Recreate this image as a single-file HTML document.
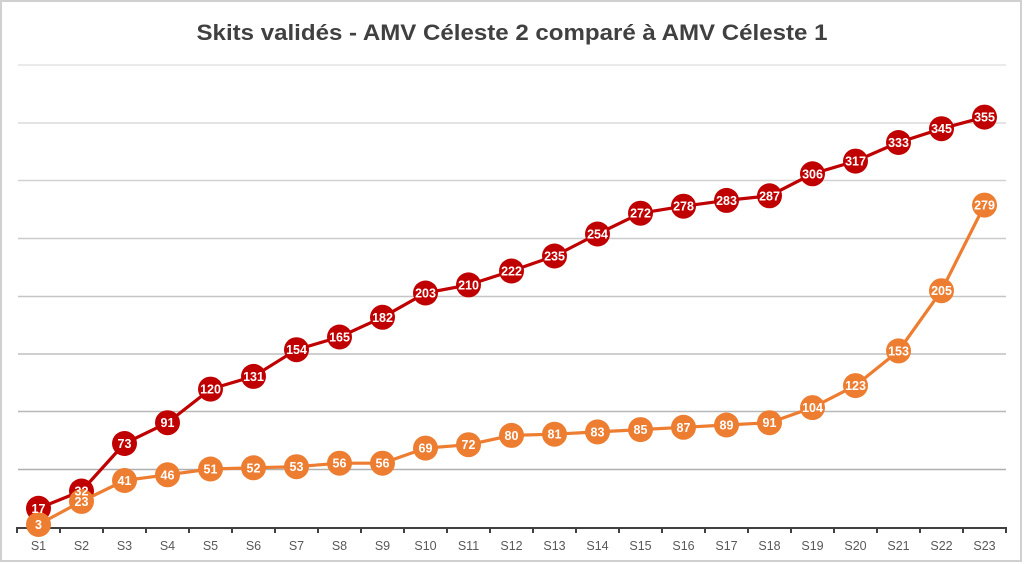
<!DOCTYPE html>
<html><head><meta charset="utf-8"><style>
html,body{margin:0;padding:0;background:#fff;}
svg{display:block;}
</style></head><body>
<svg width="1024" height="564" viewBox="0 0 1024 564" xmlns="http://www.w3.org/2000/svg">
<rect x="0" y="0" width="1024" height="564" fill="#fff"/>
<rect x="1" y="1" width="1020" height="560" fill="#fff" stroke="#d0d0d0" stroke-width="2"/>
<text x="512" y="40" text-anchor="middle" font-family="Liberation Sans, sans-serif" font-weight="bold" font-size="22" fill="#404040" textLength="631" lengthAdjust="spacingAndGlyphs">Skits validés - AMV Céleste 2 comparé à AMV Céleste 1</text>
<g stroke-width="1.5">
<line x1="18" x2="1006" y1="65" y2="65" stroke="#e4e4e4"/>
<line x1="18" x2="1006" y1="123" y2="123" stroke="#dadada"/>
<line x1="18" x2="1006" y1="180.5" y2="180.5" stroke="#d2d2d2"/>
<line x1="18" x2="1006" y1="238.5" y2="238.5" stroke="#cbcbcb"/>
<line x1="18" x2="1006" y1="296.5" y2="296.5" stroke="#c5c5c5"/>
<line x1="18" x2="1006" y1="354" y2="354" stroke="#bfbfbf"/>
<line x1="18" x2="1006" y1="411.5" y2="411.5" stroke="#b8b8b8"/>
<line x1="18" x2="1006" y1="469.5" y2="469.5" stroke="#b0b0b0"/>
</g>
<g stroke="#404040" stroke-width="2" fill="none">
<line x1="17" x2="1007" y1="528" y2="528"/>
<path d="M17 527v6M60 527v6M103 527v6M146 527v6M189 527v6M232 527v6M275 527v6M318 527v6M361 527v6M404 527v6M447 527v6M490 527v6M533 527v6M576 527v6M619 527v6M662 527v6M705 527v6M748 527v6M791 527v6M834 527v6M877 527v6M920 527v6M963 527v6M1006 527v6"/>
</g>
<g font-family="Liberation Sans, sans-serif" font-size="12.5" fill="#595959" text-anchor="middle">
<text x="38.5" y="550">S1</text><text x="81.5" y="550">S2</text><text x="124.5" y="550">S3</text><text x="167.5" y="550">S4</text><text x="210.5" y="550">S5</text><text x="253.5" y="550">S6</text><text x="296.5" y="550">S7</text><text x="339.5" y="550">S8</text><text x="382.5" y="550">S9</text><text x="425.5" y="550">S10</text><text x="468.5" y="550">S11</text><text x="511.5" y="550">S12</text><text x="554.5" y="550">S13</text><text x="597.5" y="550">S14</text><text x="640.5" y="550">S15</text><text x="683.5" y="550">S16</text><text x="726.5" y="550">S17</text><text x="769.5" y="550">S18</text><text x="812.5" y="550">S19</text><text x="855.5" y="550">S20</text><text x="898.5" y="550">S21</text><text x="941.5" y="550">S22</text><text x="984.5" y="550">S23</text>
</g>
<!-- Red series -->
<polyline fill="none" stroke="#C00000" stroke-width="3.2" stroke-linejoin="round" points="38.5,508.3 81.5,491 124.5,443.5 167.5,422.7 210.5,389.1 253.5,376.4 296.5,349.7 339.5,337 382.5,317.3 425.5,293 468.5,284.9 511.5,271 554.5,256 597.5,234 640.5,213.2 683.5,206.2 726.5,200.4 769.5,195.8 812.5,173.8 855.5,161.1 898.5,142.5 941.5,128.7 984.5,117.1"/>
<g fill="#C00000">
<circle cx="38.5" cy="508.3" r="12.5"/><circle cx="81.5" cy="491" r="12.5"/><circle cx="124.5" cy="443.5" r="12.5"/><circle cx="167.5" cy="422.7" r="12.5"/><circle cx="210.5" cy="389.1" r="12.5"/><circle cx="253.5" cy="376.4" r="12.5"/><circle cx="296.5" cy="349.7" r="12.5"/><circle cx="339.5" cy="337" r="12.5"/><circle cx="382.5" cy="317.3" r="12.5"/><circle cx="425.5" cy="293" r="12.5"/><circle cx="468.5" cy="284.9" r="12.5"/><circle cx="511.5" cy="271" r="12.5"/><circle cx="554.5" cy="256" r="12.5"/><circle cx="597.5" cy="234" r="12.5"/><circle cx="640.5" cy="213.2" r="12.5"/><circle cx="683.5" cy="206.2" r="12.5"/><circle cx="726.5" cy="200.4" r="12.5"/><circle cx="769.5" cy="195.8" r="12.5"/><circle cx="812.5" cy="173.8" r="12.5"/><circle cx="855.5" cy="161.1" r="12.5"/><circle cx="898.5" cy="142.5" r="12.5"/><circle cx="941.5" cy="128.7" r="12.5"/><circle cx="984.5" cy="117.1" r="12.5"/>
</g>
<!-- Orange series -->
<polyline fill="none" stroke="#ED7D31" stroke-width="3.2" stroke-linejoin="round" points="38.5,524.5 81.5,501.4 124.5,480.5 167.5,474.8 210.5,469 253.5,467.8 296.5,466.7 339.5,463.2 382.5,463.2 425.5,448.1 468.5,444.7 511.5,435.4 554.5,434.2 597.5,431.9 640.5,429.6 683.5,427.3 726.5,425 769.5,422.7 812.5,407.6 855.5,385.6 898.5,350.9 941.5,290.7 984.5,205.1"/>
<g fill="#ED7D31">
<circle cx="38.5" cy="524.5" r="12.5"/><circle cx="81.5" cy="501.4" r="12.5"/><circle cx="124.5" cy="480.5" r="12.5"/><circle cx="167.5" cy="474.8" r="12.5"/><circle cx="210.5" cy="469" r="12.5"/><circle cx="253.5" cy="467.8" r="12.5"/><circle cx="296.5" cy="466.7" r="12.5"/><circle cx="339.5" cy="463.2" r="12.5"/><circle cx="382.5" cy="463.2" r="12.5"/><circle cx="425.5" cy="448.1" r="12.5"/><circle cx="468.5" cy="444.7" r="12.5"/><circle cx="511.5" cy="435.4" r="12.5"/><circle cx="554.5" cy="434.2" r="12.5"/><circle cx="597.5" cy="431.9" r="12.5"/><circle cx="640.5" cy="429.6" r="12.5"/><circle cx="683.5" cy="427.3" r="12.5"/><circle cx="726.5" cy="425" r="12.5"/><circle cx="769.5" cy="422.7" r="12.5"/><circle cx="812.5" cy="407.6" r="12.5"/><circle cx="855.5" cy="385.6" r="12.5"/><circle cx="898.5" cy="350.9" r="12.5"/><circle cx="941.5" cy="290.7" r="12.5"/><circle cx="984.5" cy="205.1" r="12.5"/>
</g>
<!-- Labels -->
<g font-family="Liberation Sans, sans-serif" font-weight="bold" font-size="12.5" fill="#fff" text-anchor="middle">
<text x="38.5" y="512.8">17</text><text x="81.5" y="495.5">32</text><text x="124.5" y="448">73</text><text x="167.5" y="427.2">91</text><text x="210.5" y="393.6">120</text><text x="253.5" y="380.9">131</text><text x="296.5" y="354.2">154</text><text x="339.5" y="341.5">165</text><text x="382.5" y="321.8">182</text><text x="425.5" y="297.5">203</text><text x="468.5" y="289.4">210</text><text x="511.5" y="275.5">222</text><text x="554.5" y="260.5">235</text><text x="597.5" y="238.5">254</text><text x="640.5" y="217.7">272</text><text x="683.5" y="210.7">278</text><text x="726.5" y="204.9">283</text><text x="769.5" y="200.3">287</text><text x="812.5" y="178.3">306</text><text x="855.5" y="165.6">317</text><text x="898.5" y="147">333</text><text x="941.5" y="133.2">345</text><text x="984.5" y="121.6">355</text>
<text x="38.5" y="529">3</text><text x="81.5" y="505.9">23</text><text x="124.5" y="485">41</text><text x="167.5" y="479.3">46</text><text x="210.5" y="473.5">51</text><text x="253.5" y="472.3">52</text><text x="296.5" y="471.2">53</text><text x="339.5" y="467.7">56</text><text x="382.5" y="467.7">56</text><text x="425.5" y="452.6">69</text><text x="468.5" y="449.2">72</text><text x="511.5" y="439.9">80</text><text x="554.5" y="438.7">81</text><text x="597.5" y="436.4">83</text><text x="640.5" y="434.1">85</text><text x="683.5" y="431.8">87</text><text x="726.5" y="429.5">89</text><text x="769.5" y="427.2">91</text><text x="812.5" y="412.1">104</text><text x="855.5" y="390.1">123</text><text x="898.5" y="355.4">153</text><text x="941.5" y="295.2">205</text><text x="984.5" y="209.6">279</text>
</g>
</svg>
</body></html>
